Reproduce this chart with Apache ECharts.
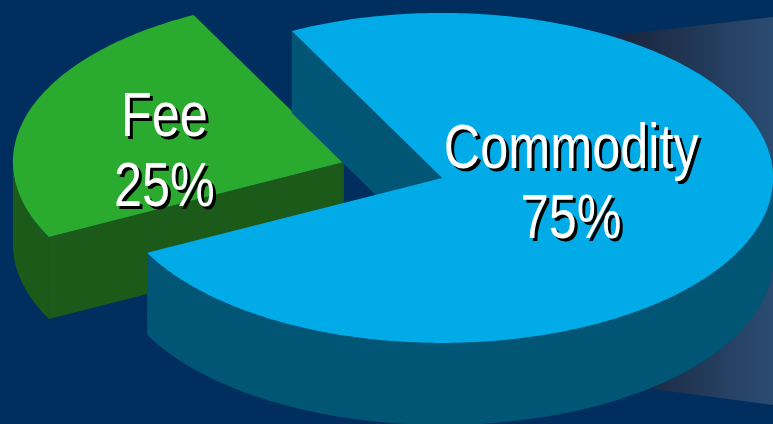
<!DOCTYPE html>
<html>
<head>
<meta charset="utf-8">
<script src="https://cdn.jsdelivr.net/npm/echarts@6/dist/echarts.min.js"></script>
<style>
  html, body { margin: 0; padding: 0; background: #002e5e; }
  #chart { width: 773px; height: 424px; }
</style>
</head>
<body>
<div id="chart"></div>
<script>
// Revenue split
const categories = ['Fee', 'Commodity'];
const shares = [25, 75];

// Slice colours: lit top face and shaded walls
const topColors = ['#2aaa2e', '#00abe8'];
const sideColors = ['#1b5a19', '#005674'];

// Tilted-disc geometry (pixels) and explode distance as a fraction of the radius
const pie = { cx: 393, cy: 170, rx: 331, ry: 165, depth: 82, explode: 0.156, startAngle: 117 };
// Label placement along each slice's mid-angle, plus a small vertical nudge
const labelLayout = { radius: [0.57, 0.41], nudgeY: [21, -13] };

const total = shares.reduce((a, b) => a + b, 0);
const spans = [];
let acc = pie.startAngle;
shares.forEach(v => {
  const sweep = v / total * 360;
  spans.push([acc, acc + sweep]);
  acc += sweep;
});

const rad = d => d * Math.PI / 180;

function labelText(x, y, text, fill) {
  return {
    type: 'text',
    x: x,
    y: y,
    scaleX: 0.8,
    style: {
      text: text,
      x: 0,
      y: 0,
      align: 'center',
      verticalAlign: 'middle',
      fill: fill,
      font: '63px "Liberation Sans", Arial, sans-serif',
      lineHeight: 70
    }
  };
}

function renderSlice(params, api) {
  const i = params.dataIndex;
  const [a0, a1] = spans[i];
  const mid = (a0 + a1) / 2;
  const ox = pie.cx + pie.explode * pie.rx * Math.cos(rad(mid));
  const oy = pie.cy - pie.explode * pie.ry * Math.sin(rad(mid));
  const pt = (a, dy = 0) => [ox + pie.rx * Math.cos(rad(a)), oy - pie.ry * Math.sin(rad(a)) + dy];
  const arc = (from, to, dy = 0) => {
    const n = Math.max(2, Math.ceil(Math.abs(to - from)));
    const pts = [];
    for (let k = 0; k <= n; k++) pts.push(pt(from + (to - from) * k / n, dy));
    return pts;
  };
  const side = sideColors[i];
  const children = [];

  // Curved rim: only the near half of the disc faces the viewer
  for (let base = Math.floor(a0 / 360) * 360 - 360; base < a1; base += 360) {
    const f = Math.max(a0, base + 180);
    const t = Math.min(a1, base + 360);
    if (t > f) {
      children.push({
        type: 'polygon',
        shape: { points: arc(f, t).concat(arc(t, f, pie.depth)) },
        style: { fill: side }
      });
    }
  }

  // Radial cut faces, drawn when they turn towards the viewer
  const cutWall = a => ({
    type: 'polygon',
    shape: { points: [[ox, oy], pt(a), pt(a, pie.depth), [ox, oy + pie.depth]] },
    style: { fill: side }
  });
  if (Math.cos(rad(a0)) > 0) children.push(cutWall(a0));
  if (Math.cos(rad(a1)) < 0) children.push(cutWall(a1));

  // Top face
  children.push({
    type: 'polygon',
    shape: { points: [[ox, oy]].concat(arc(a0, a1)) },
    style: { fill: topColors[i] }
  });

  // Category and share label, white over a hard black drop shadow
  const lr = labelLayout.radius[i];
  const lx = ox + lr * pie.rx * Math.cos(rad(mid));
  const ly = oy - lr * pie.ry * Math.sin(rad(mid)) + labelLayout.nudgeY[i];
  const text = categories[i] + '\n' + Math.round(api.value(0) / total * 100) + '%';
  children.push(labelText(lx + 3, ly + 3, text, '#000000'));
  children.push(labelText(lx, ly, text, '#ffffff'));

  return { type: 'group', children };
}

const chart = echarts.init(document.getElementById('chart'), null, { renderer: 'canvas' });
chart.setOption({
  backgroundColor: '#002e5e',
  animation: false,
  graphic: [{
    type: 'polygon',
    z: 0,
    silent: true,
    shape: { points: [[600, 37], [773, 17], [773, 405], [600, 382]] },
    style: {
      fill: {
        type: 'linear', x: 630, y: 0, x2: 765, y2: 0, global: true,
        colorStops: [
          { offset: 0, color: '#1a273f' },
          { offset: 1, color: '#2a4a70' }
        ]
      }
    }
  }],
  series: [{
    type: 'custom',
    coordinateSystem: 'none',
    z: 5,
    silent: true,
    renderItem: renderSlice,
    data: shares.map((v, i) => ({ name: categories[i], value: [v] }))
  }]
});
</script>
</body>
</html>
